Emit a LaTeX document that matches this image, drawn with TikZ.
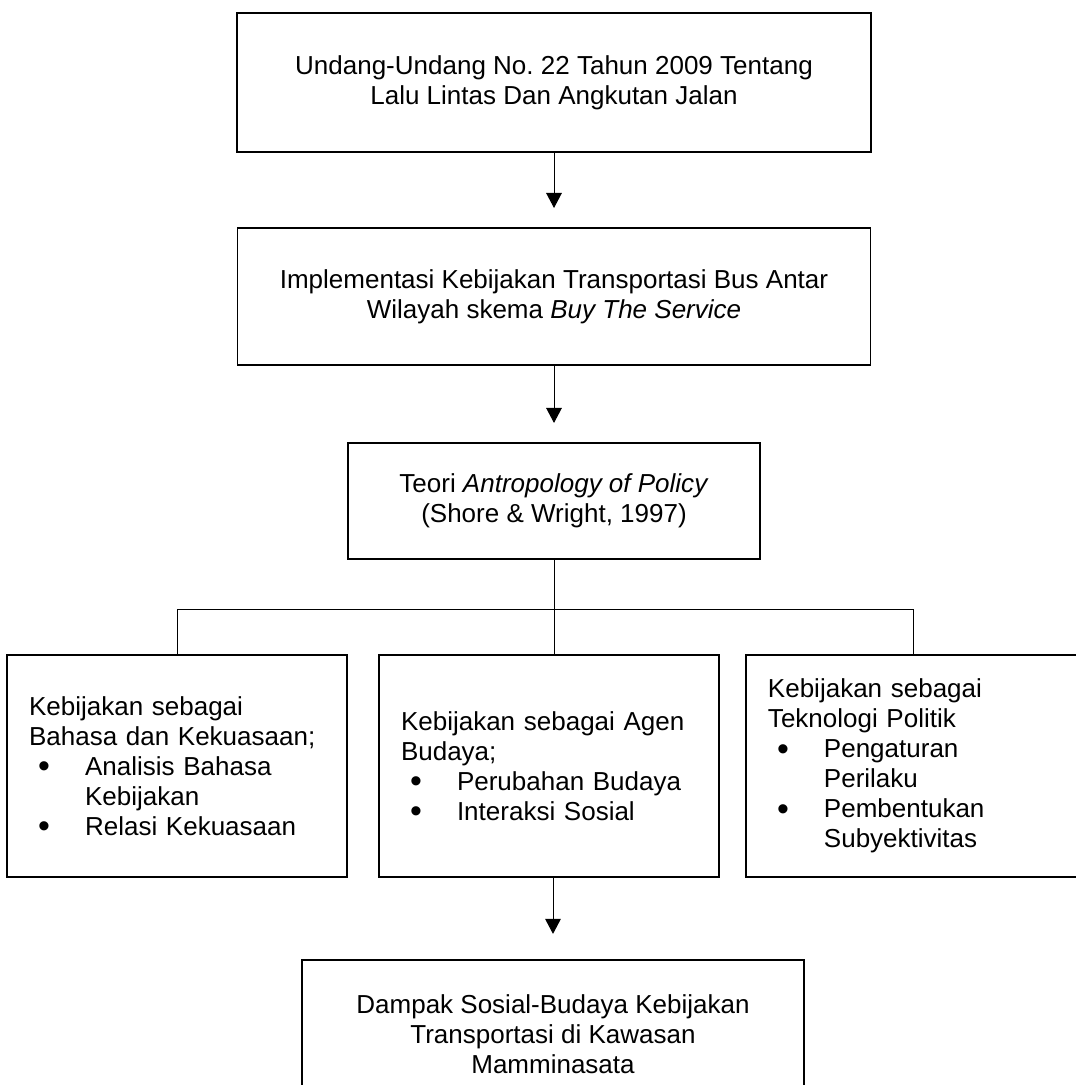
\documentclass[tikz,border=0pt]{standalone}
\usepackage{graphicx}
\usepackage{fontspec}
\setmainfont{Liberation Sans}
\usetikzlibrary{arrows.meta, positioning}
\frenchspacing
\newcommand{\bul}{\hspace*{0.23cm}\makebox[1.17cm][l]{\smash{\raisebox{-0.1em}{\scalebox{1.3}{\textbullet}}}}}
\newcommand{\ind}{\hspace*{1.4cm}}

\begin{document}
\begin{tikzpicture}[
				font=\fontsize{18.5}{21.3}\selectfont,
				box/.style={draw, line width=1.4pt, align=center, inner sep=0pt},
				sidebox/.style={draw, line width=1.4pt, align=left, inner xsep=0.55cm, inner ysep=0pt, text width=7.4cm, minimum height=5.55cm},
				arr/.style={-{Triangle[length=0.375cm, width=0.39cm]}, line width=0.7pt},
				line/.style={line width=0.7pt}
			]
				\useasboundingbox (0,0) rectangle (26.9,-27.125);

				\node[box, minimum width=15.85cm, minimum height=3.475cm] (uu) at (13.85,-2.0625) {Undang-Undang No. 22 Tahun 2009 Tentang\\Lalu Lintas Dan Angkutan Jalan};
				\node[box, minimum width=15.825cm, minimum height=3.425cm, below=1.85cm of uu] (impl) {Implementasi Kebijakan Transportasi Bus Antar\\Wilayah skema \textit{Buy The Service}};
				\node[box, minimum width=10.3cm, minimum height=2.9cm, below=1.9cm of impl] (teori) {Teori \textit{Antropology of Policy}\\(Shore \& Wright, 1997)};

				\node[sidebox, below=2.35cm of teori, xshift=-0.125cm] (agen) {Kebijakan sebagai Agen\\Budaya;\\\bul Perubahan Budaya\\\bul Interaksi Sosial};
				\node[sidebox, left=0.75cm of agen] (bahasa) {Kebijakan sebagai\\Bahasa dan Kekuasaan;\\\bul Analisis Bahasa\\\ind Kebijakan\\\bul Relasi Kekuasaan};
				\node[sidebox, text width=7.3cm, right=0.625cm of agen] (tekno) {Kebijakan sebagai\\Teknologi Politik\\\bul Pengaturan\\\ind Perilaku\\\bul Pembentukan\\\ind Subyektivitas};

				\node[box, minimum width=12.55cm, minimum height=3.725cm, below=2.025cm of agen, xshift=0.1cm] (dampak) {Dampak Sosial-Budaya Kebijakan\\Transportasi di Kawasan\\Mamminasata};

				\draw[arr, shorten >=0.475cm] (uu) -- (impl);
				\draw[arr, shorten >=0.475cm] (impl) -- (teori);
				\path (teori.south) ++(0,-1.25) coordinate (bus);
				\draw[line] (teori.south) -- (teori.south |- agen.north);
				\draw[line] (bahasa.north) |- (bus) -| (tekno.north);
				\draw[arr, shorten >=0.625cm] (dampak.north |- agen.south) -- (dampak.north);
			\end{tikzpicture}
\end{document}
